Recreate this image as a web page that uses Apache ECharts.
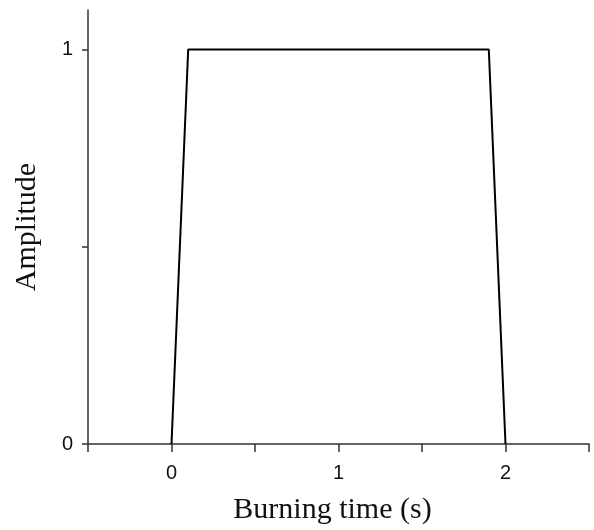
<!DOCTYPE html>
<html>
<head>
<meta charset="utf-8">
<script src="https://cdn.jsdelivr.net/npm/echarts@6/dist/echarts.min.js"></script>
<style>
  html, body { margin: 0; padding: 0; background: #fff; }
  #chart { width: 594px; height: 530px; }
</style>
</head>
<body>
<div id="chart"></div>
<script type="text/javascript">
  // 数据：燃烧时间与幅值
  var timeValues = [0, 0.1, 1.9, 2];
  var amplitudeValues = [0, 1, 1, 0];
  var xTicks = [-0.5, 0, 0.5, 1, 1.5, 2, 2.5];
  var xLabels = [0, 1, 2];
  var yTicks = [0, 0.5, 1];
  var yLabels = [0, 1];

  var points = timeValues.map(function (t, i) { return [t, amplitudeValues[i]]; });

  var myChart = echarts.init(document.getElementById('chart'));
  var axisColor = '#333';
  var option = {
    animation: false,
    backgroundColor: '#fff',
    grid: { left: 88, right: 5, top: 10, bottom: 82, containLabel: false },
    xAxis: {
      type: 'value',
      min: -0.5,
      max: 2.5,
      interval: 0.5,
      name: 'Burning time (s)',
      nameLocation: 'middle',
      nameGap: 51,
      nameTextStyle: { fontFamily: 'Liberation Serif', fontSize: 30, color: '#111', padding: [0, 12, 0, 0] },
      axisLine: { onZero: false, lineStyle: { color: axisColor, width: 1.5 } },
      axisTick: { show: true, length: 8, customValues: xTicks, lineStyle: { color: axisColor, width: 1.5 } },
      axisLabel: { customValues: xLabels, margin: 19, fontFamily: 'Liberation Sans', fontSize: 20, color: '#111' },
      splitLine: { show: false }
    },
    yAxis: {
      type: 'value',
      min: 0,
      max: 1.1,
      interval: 0.5,
      name: 'Amplitude',
      nameLocation: 'middle',
      nameGap: 46,
      nameRotate: 90,
      nameTextStyle: { fontFamily: 'Liberation Serif', fontSize: 30, color: '#111' },
      axisLine: { show: true, onZero: false, lineStyle: { color: axisColor, width: 1.5 } },
      axisTick: { show: true, length: 6, customValues: yTicks, lineStyle: { color: axisColor, width: 1.5 } },
      axisLabel: { customValues: yLabels, margin: 15, fontFamily: 'Liberation Sans', fontSize: 20, color: '#111' },
      splitLine: { show: false }
    },
    series: [
      {
        type: 'line',
        data: points,
        symbol: 'none',
        lineStyle: { color: '#000', width: 2 }
      }
    ]
  };
  myChart.setOption(option);
</script>
</body>
</html>
